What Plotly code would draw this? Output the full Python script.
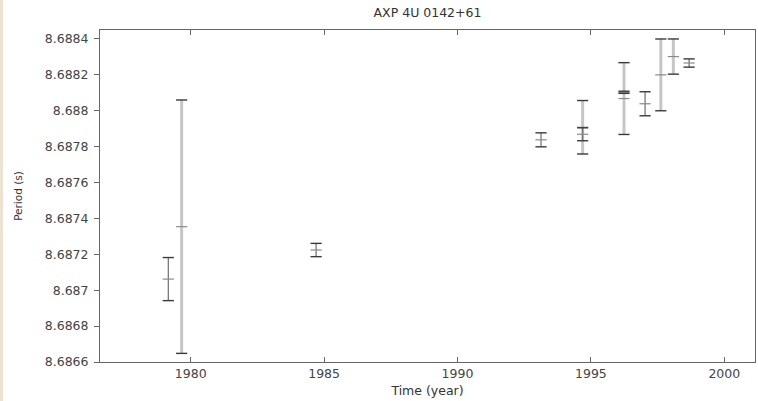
import plotly.graph_objects as go

# Data
years_dark = [1979.16, 1984.70, 1993.13, 1994.69, 1996.24, 1997.03, 1998.68]
period_dark = [8.687062, 8.687224, 8.687838, 8.687869, 8.688103, 8.688039, 8.688266]
err_dark = [0.000120, 0.000037, 0.000039, 0.000036, 0.000006, 0.000067, 0.000023]

years_gray = [1979.66, 1994.69, 1996.24, 1997.62, 1998.09]
period_gray = [8.687354, 8.687908, 8.688068, 8.688200, 8.688302]
err_gray = [0.000706, 0.000149, 0.000200, 0.000200, 0.000098]

x_ticks = [1980, 1985, 1990, 1995, 2000]
y_ticks = [8.6866, 8.6868, 8.6870, 8.6872, 8.6874, 8.6876, 8.6878, 8.6880, 8.6882, 8.6884]
y_tick_text = ["8.6866", "8.6868", "8.687", "8.6872", "8.6874", "8.6876", "8.6878", "8.688", "8.6882", "8.6884"]

CAP = "#3a3a3a"
fig = go.Figure()


def add_group(xs, ys, es, stem_color, stem_w, mid_color):
    # stems
    fig.add_trace(go.Scatter(
        x=xs, y=ys, mode="markers", marker=dict(size=0.1, color="rgba(0,0,0,0)"),
        error_y=dict(type="data", array=es, visible=True, color=stem_color,
                     thickness=stem_w, width=0),
        showlegend=False, hoverinfo="skip"))
    # center ticks
    fig.add_trace(go.Scatter(
        x=xs, y=ys, mode="markers",
        marker=dict(symbol="line-ew", size=8, line=dict(color=mid_color, width=1.2)),
        showlegend=False, hoverinfo="skip"))
    # caps
    caps_x = list(xs) + list(xs)
    caps_y = [y + e for y, e in zip(ys, es)] + [y - e for y, e in zip(ys, es)]
    fig.add_trace(go.Scatter(
        x=caps_x, y=caps_y, mode="markers",
        marker=dict(symbol="line-ew", size=8, line=dict(color=CAP, width=1.4)),
        showlegend=False, hoverinfo="skip"))


add_group(years_gray, period_gray, err_gray, "#c6c6c6", 3, "#8a8a8a")
add_group(years_dark, period_dark, err_dark, "#6e6e6e", 1.2, "#8a8a8a")

FONT = "DejaVu Sans, Verdana, sans-serif"
axis_font = dict(family=FONT, size=12.5, color="#444")

fig.update_layout(
    width=758, height=401,
    margin=dict(l=100, r=3, t=30, b=39),
    paper_bgcolor="white", plot_bgcolor="white",
    font=axis_font,
    title=dict(text="AXP 4U 0142+61", x=0.5, xref="paper", y=1 - 13 / 401,
               yref="container", xanchor="center", yanchor="middle",
               font=dict(family=FONT, size=12.5, color="#333")),
    xaxis=dict(range=[1976.6, 2001.15], tickvals=x_ticks, ticks="inside", ticklen=5,
               tickcolor="#666", showline=True, linecolor="#666", linewidth=1,
               mirror="ticks", showgrid=False, zeroline=False, tickfont=axis_font,
               title=dict(text="Time (year)", font=dict(family=FONT, size=12.5, color="#333"),
                          standoff=6)),
    yaxis=dict(range=[8.6866, 8.68845], tickvals=y_ticks, ticktext=y_tick_text,
               ticks="outside", ticklen=5, tickcolor="#666", showline=True,
               linecolor="#666", linewidth=1, mirror=True, showgrid=False,
               zeroline=False, tickfont=axis_font, ticklabelstandoff=3,
               title=dict(text="Period (s)", font=dict(family=FONT, size=10.5, color="#333"),
                          standoff=20)),
    shapes=[dict(type="rect", xref="paper", yref="paper", x0=-100 / 655, x1=-97 / 655,
                 y0=-39 / 332, y1=1 + 30 / 332, fillcolor="#ece2d2", line=dict(width=0),
                 layer="below")],
)

fig.write_html("out.html")
